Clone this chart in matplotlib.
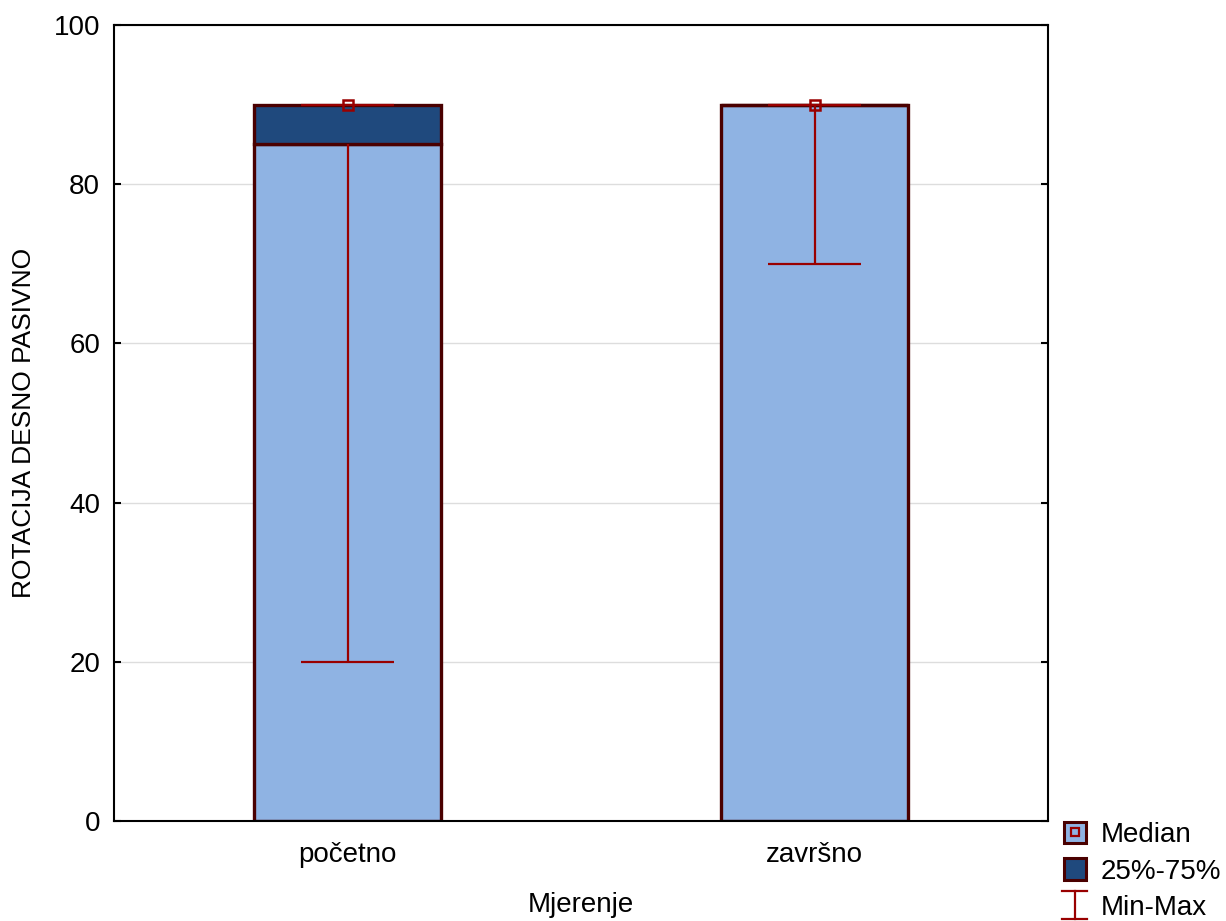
import matplotlib
matplotlib.use("Agg")
import matplotlib.pyplot as plt
from matplotlib.patches import Patch
from matplotlib.lines import Line2D
from matplotlib.legend_handler import HandlerBase

# data (STATISTICA style box plot)
categories = ['početno', 'završno']
mins = [20, 70]
q1 = [85, 90]
medians = [90, 90]
q3 = [90, 90]
maxs = [90, 90]

light_blue = '#8fb3e3'
dark_blue = '#1f497d'
edge_col = '#4a0000'
whisker_col = '#990000'

plt.rcParams['font.family'] = ['Liberation Sans', 'DejaVu Sans']
plt.rcParams['font.size'] = 20


class HandlerMinMax(HandlerBase):
    def create_artists(self, legend, orig_handle, xdescent, ydescent,
                       width, height, fontsize, trans):
        cx = width / 2 - xdescent
        y0 = -ydescent - 0.12 * height
        y1 = height - ydescent + 0.22 * height
        w = width * 0.55
        arts = [Line2D([cx, cx], [y0, y1]),
                Line2D([cx - w, cx + w], [y0, y0]),
                Line2D([cx - w, cx + w], [y1, y1])]
        for a in arts:
            a.set_color(whisker_col)
            a.set_linewidth(1.6)
            a.set_transform(trans)
        return arts


fig = plt.figure(figsize=(12.26, 9.21), dpi=100)
ax = fig.add_axes([0.093, 0.1086, 0.762, 0.8643])

x = [1, 2]
bw = 0.4
cap = 0.2
box_h = [t - b for t, b in zip(q3, q1)]

ax.bar(x, q1, width=bw, color=light_blue, edgecolor=edge_col,
       linewidth=2.4, zorder=2)
ax.bar(x, box_h, bottom=q1, width=bw, color=dark_blue, edgecolor=edge_col,
       linewidth=2.4, zorder=2)

# whiskers
ax.vlines(x, mins, q1, color=whisker_col, linewidth=1.6, zorder=3)
ax.vlines(x, q3, maxs, color=whisker_col, linewidth=1.6, zorder=3)
ax.hlines(mins, [i - cap / 2 for i in x], [i + cap / 2 for i in x],
          color=whisker_col, linewidth=1.6, zorder=3)
ax.hlines(maxs, [i - cap / 2 for i in x], [i + cap / 2 for i in x],
          color=whisker_col, linewidth=1.6, zorder=3)

ax.plot(x, medians, linestyle='none', marker='s', markersize=7.5,
        markerfacecolor='none', markeredgecolor=whisker_col,
        markeredgewidth=1.8, zorder=4)

ax.set_xlim(0.5, 2.5)
ax.set_ylim(0, 100)
ax.set_yticks([0, 20, 40, 60, 80, 100])
ax.set_xticks(x)
ax.set_xticklabels(categories)
ax.yaxis.grid(True, color='#dddddd', linewidth=1)
ax.set_axisbelow(True)
ax.tick_params(axis='y', direction='in', length=5, width=1.5,
               right=True, pad=10)
ax.tick_params(axis='x', direction='in', length=4, width=1.5, pad=15)
for s in ax.spines.values():
    s.set_linewidth(1.5)

xl = ax.set_xlabel('Mjerenje')
xl.set_va('baseline')
ax.xaxis.set_label_coords(0.5, -0.114)
ax.set_ylabel('ROTACIJA DESNO PASIVNO', fontsize=19)
ax.yaxis.set_label_coords(-0.083, 0.5)

h_median = (Patch(facecolor=light_blue, edgecolor=edge_col, linewidth=2.2),
            Line2D([], [], linestyle='none', marker='s', markersize=6,
                   markerfacecolor='none', markeredgecolor=whisker_col,
                   markeredgewidth=1.6))
h_box = Patch(facecolor=dark_blue, edgecolor=edge_col, linewidth=2.2)
h_mm = object()
fig.legend([h_median, h_box, h_mm], ['Median', '25%-75%', 'Min-Max'],
           handler_map={object: HandlerMinMax()},
           loc='lower left', bbox_to_anchor=(0.8675, -0.0005), frameon=False,
           handlelength=0.8, handleheight=0.8, handletextpad=0.55,
           labelspacing=0.38, borderaxespad=0, borderpad=0)

fig.savefig('out.png', dpi=100)
